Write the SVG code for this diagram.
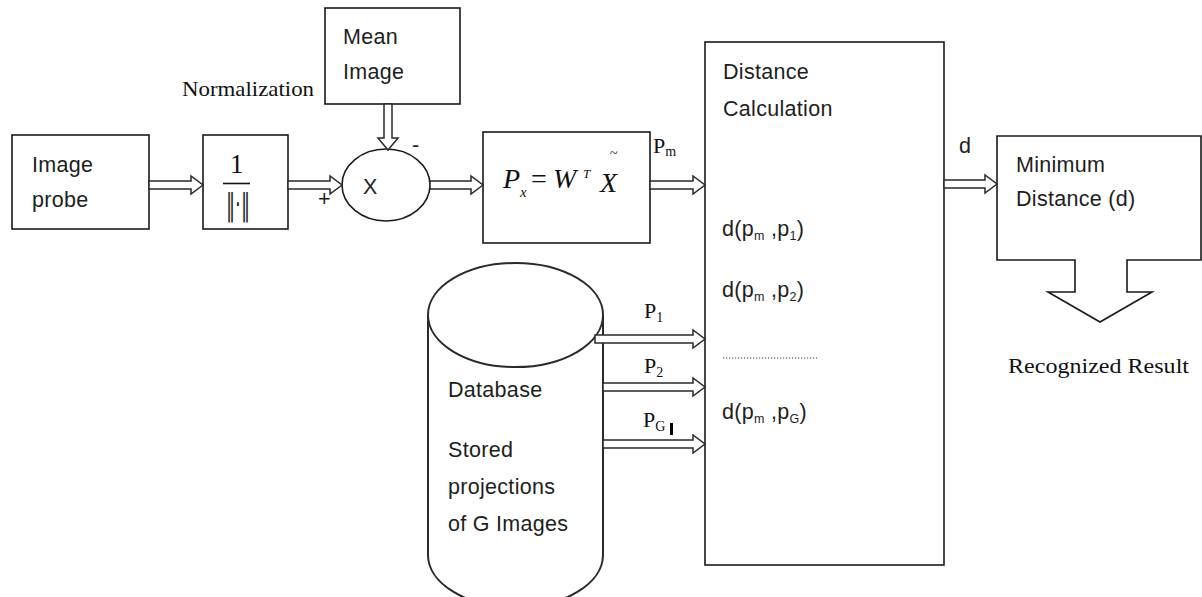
<svg xmlns="http://www.w3.org/2000/svg" width="1202" height="597" viewBox="0 0 1202 597">
<style>
.box{fill:#fff;stroke:#1a1a1a;stroke-width:1.6}
.cyl{fill:#fff;stroke:#2a2a2a;stroke-width:2}
.arr{fill:#fff;stroke:#2a2a2a;stroke-width:1.5;stroke-linejoin:miter}
.t{font-family:"Liberation Sans",Arial,sans-serif;font-size:21.5px;fill:#1e1e1e;letter-spacing:0.3px}
.s{font-family:"Liberation Serif","Times New Roman",serif;fill:#111}
.sub{font-size:12.5px}
.pl{font-size:22px}
.ps{font-size:14px}
</style>
<rect width="1202" height="597" fill="#fff"/>
<g id="image-probe">
<rect class="box" x="12" y="135" width="137" height="94"/>
<text class="t" x="32" y="172">Image</text>
<text class="t" x="32" y="207">probe</text>
</g>
<g id="normalization">
<rect class="box" x="203" y="135" width="85" height="94"/>
<text class="s" x="230" y="173" font-size="27">1</text>
<line x1="223" y1="183.5" x2="250" y2="183.5" stroke="#111" stroke-width="1.6"/>
<text x="226" y="215" font-family="'DejaVu Sans',sans-serif" font-size="30" fill="#222" textLength="24" lengthAdjust="spacingAndGlyphs">‖·‖</text>
<text class="s" x="182" y="96" font-size="21" textLength="132" lengthAdjust="spacingAndGlyphs">Normalization</text>
</g>
<g id="mean-image">
<rect class="box" x="325" y="8" width="135" height="96"/>
<text class="t" x="343" y="44">Mean</text>
<text class="t" x="343" y="79">Image</text>
</g>
<g id="subtractor">
<ellipse class="box" cx="386" cy="185" rx="44" ry="36"/>
<text class="t" x="363" y="194" font-size="18">X</text>
<text class="t" x="318" y="206" font-size="16" fill="#555">+</text>
<text class="t" x="412" y="152" font-size="16">-</text>
</g>
<g id="projection">
<rect class="box" x="483" y="132" width="167" height="111"/>
<text class="s" font-size="28" font-style="italic" x="503" y="188">P</text>
<text class="s" font-size="15" font-style="italic" x="520" y="197">x</text>
<text class="s" font-size="28" x="531" y="188">=</text>
<text class="s" font-size="28" font-style="italic" x="553" y="188">W</text>
<text class="s" font-size="13" font-style="italic" x="583" y="178">T</text>
<text class="s" font-size="28" font-style="italic" x="600" y="192">X</text>
<text class="s" font-size="14" x="610" y="158">~</text>
</g>
<g id="distance-calculation">
<rect class="box" x="705" y="42" width="239" height="523"/>
<text class="t" x="723" y="79">Distance</text>
<text class="t" x="723" y="116">Calculation</text>
<text class="t" x="722" y="236">d(p<tspan class="sub" dy="4">m</tspan><tspan dy="-4"> ,p</tspan><tspan class="sub" dy="4">1</tspan><tspan dy="-4">)</tspan></text>
<text class="t" x="722" y="297">d(p<tspan class="sub" dy="4">m</tspan><tspan dy="-4"> ,p</tspan><tspan class="sub" dy="4">2</tspan><tspan dy="-4">)</tspan></text>
<line x1="723" y1="358" x2="817" y2="358" stroke="#333" stroke-width="1.2" stroke-dasharray="1.2 1.8"/>
<text class="t" x="722" y="419">d(p<tspan class="sub" dy="4">m</tspan><tspan dy="-4"> ,p</tspan><tspan class="sub" dy="4">G</tspan><tspan dy="-4">)</tspan></text>
</g>
<g id="minimum-distance">
<path class="box" d="M1075,260 L997,260 L997,136 L1201,136 L1201,260 L1127,260 L1127,292 L1152,292 L1100,322 L1048,292 L1075,292 Z"/>
<text class="t" x="1016" y="172">Minimum</text>
<text class="t" x="1016" y="206">Distance (d)</text>
<text class="s" x="1008" y="373" font-size="22" textLength="181" lengthAdjust="spacingAndGlyphs">Recognized Result</text>
</g>
<g id="database">
<path class="cyl" d="M428,315 L428,555 A87,52 0 0 0 603,555 L603,315"/>
<ellipse class="cyl" cx="515.5" cy="315" rx="87.5" ry="52"/>
<text class="t" x="448" y="397">Database</text>
<text class="t" x="448" y="457">Stored</text>
<text class="t" x="448" y="494">projections</text>
<text class="t" x="448" y="531" letter-spacing="0">of G Images</text>
</g>
<g id="connectors">
<polygon class="arr" points="149,181 191,181 191,176 203,185 191,194 191,189 149,189"/>
<polygon class="arr" points="288,181 330,181 330,176 342,185 330,194 330,189 288,189"/>
<polygon class="arr" points="430,181 471,181 471,176 483,185 471,194 471,189 430,189"/>
<polygon class="arr" points="650,181 693,181 693,176 705,185 693,194 693,189 650,189"/>
<polygon class="arr" points="944,180 985,180 985,175 997,184 985,193 985,188 944,188"/>
<polygon class="arr" points="384,104 384,138 378,138 388,150 398,138 392,138 392,104"/>
<polygon class="arr" points="595,335 693,335 693,330 705,339 693,348 693,343 595,343"/>
<polygon class="arr" points="603,383 693,383 693,378 705,387 693,396 693,391 603,391"/>
<polygon class="arr" points="603,440 693,440 693,435 705,444 693,453 693,448 603,448"/>
<text class="s pl" x="653" y="153">P<tspan class="ps" dy="3">m</tspan></text>
<text class="s pl" x="644" y="318">P<tspan class="ps" dy="4">1</tspan></text>
<text class="s pl" x="644" y="373">P<tspan class="ps" dy="4">2</tspan></text>
<text class="s pl" x="643" y="427">P<tspan class="ps" dy="4">G</tspan></text>
<rect x="670" y="423" width="3" height="12" fill="#000"/>
<text class="t" x="959" y="153">d</text>
</g>
</svg>
